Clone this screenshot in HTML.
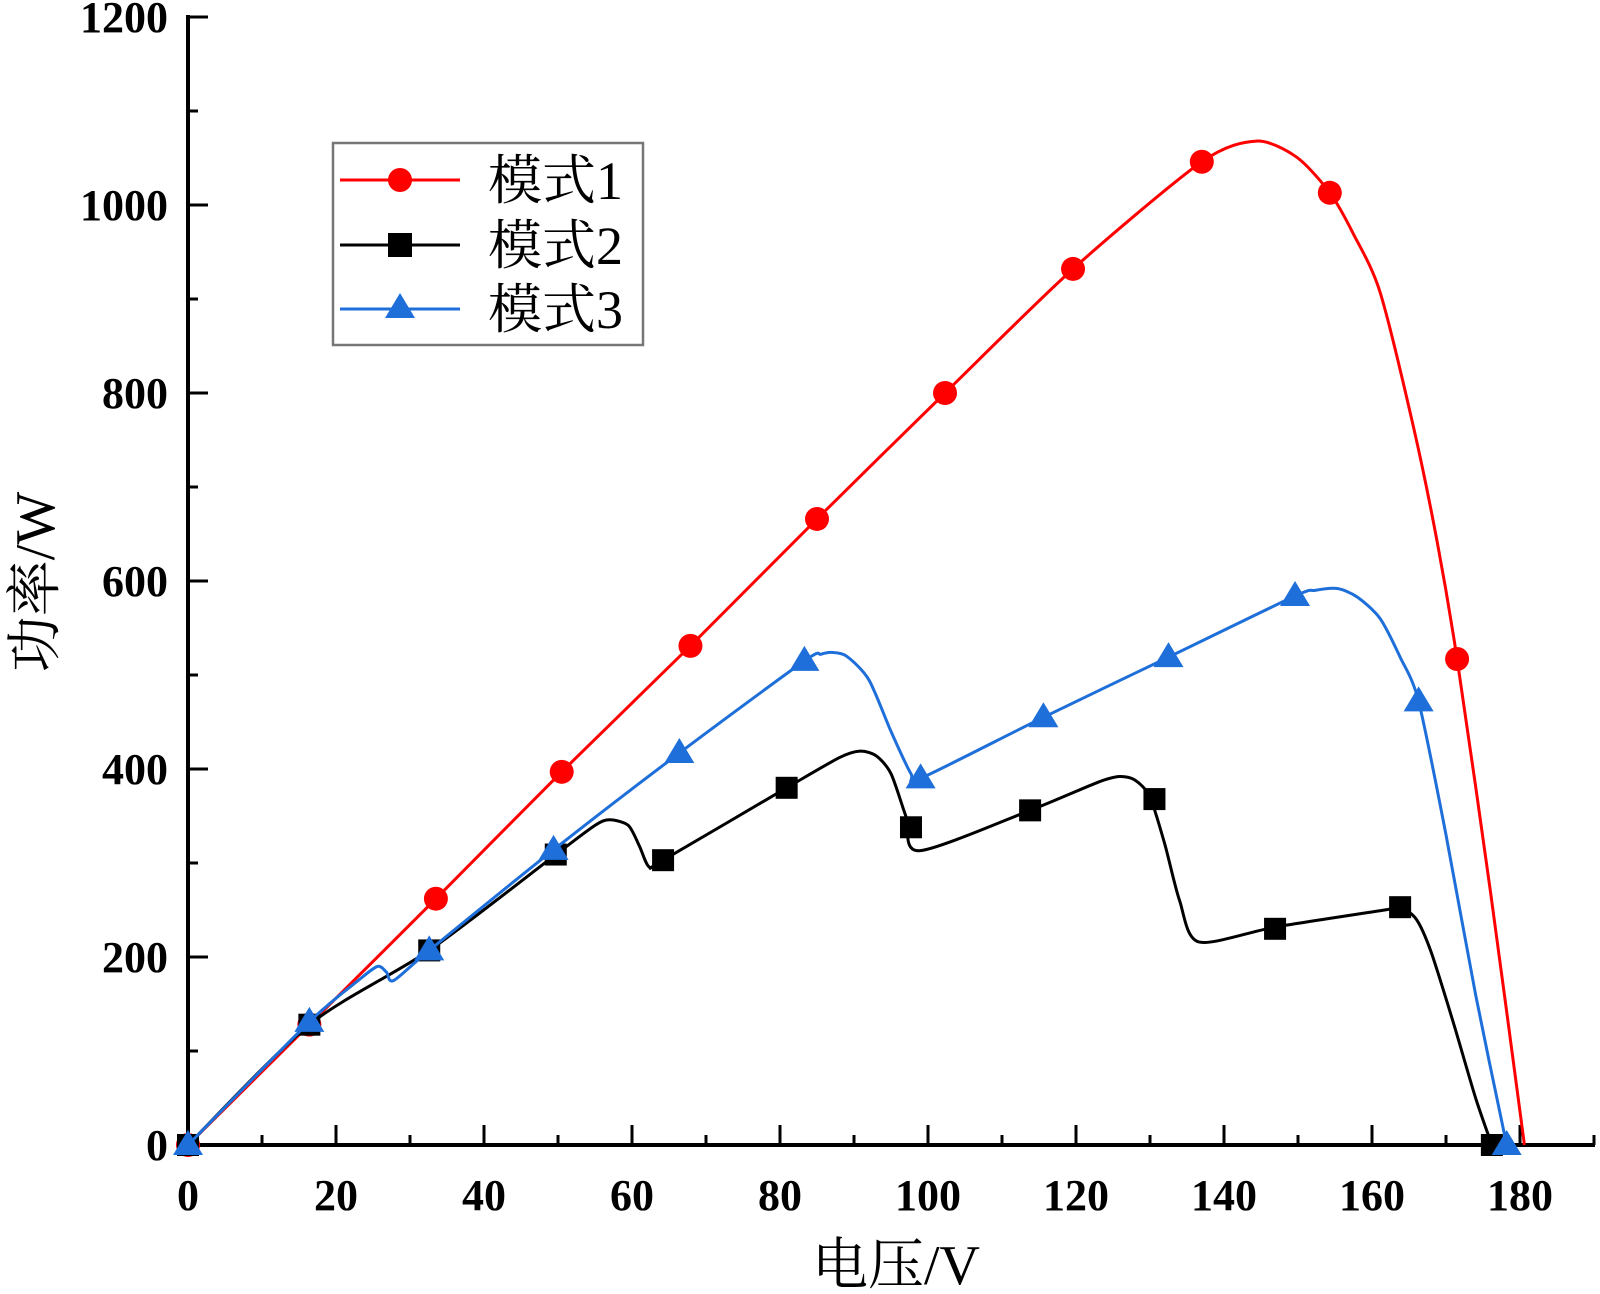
<!DOCTYPE html>
<html><head><meta charset="utf-8"><style>
html,body{margin:0;padding:0;background:#fff}
svg{display:block}
text{font-family:"Liberation Serif","Noto Serif CJK SC",serif}
</style></head><body>
<svg id="chart" width="1600" height="1294" viewBox="0 0 1600 1294" xmlns="http://www.w3.org/2000/svg">
<g id="axes"></g>
<g id="series"></g>
<g id="legend">
  <rect x="333" y="143" width="310" height="202" fill="#fff" stroke="#777" stroke-width="2.5"/>
  <g>
    <line x1="340" y1="180" x2="460" y2="180" stroke="#f00" stroke-width="3"/>
    <circle cx="400" cy="180" r="12" fill="#f00"/>
    <text x="488" y="199" font-size="54" fill="#000">模式1</text>
  </g>
  <g>
    <line x1="340" y1="245" x2="460" y2="245" stroke="#000" stroke-width="3"/>
    <rect x="388" y="233" width="24" height="24" fill="#000"/>
    <text x="488" y="264" font-size="54" fill="#000">模式2</text>
  </g>
  <g>
    <line x1="340" y1="309" x2="460" y2="309" stroke="#1e6fd9" stroke-width="3"/>
    <polygon points="400,293 415,318 385,318" fill="#1e6fd9"/>
    <text x="488" y="328" font-size="54" fill="#000">模式3</text>
  </g>
</g>
</svg>
<script>
const xTicks=[0,20,40,60,80,100,120,140,160,180];
const yTicks=[0,200,400,600,800,1000,1200];
// mode 1 (red)
const m1CurveX=[0,16.4,33.5,50.5,67.9,85,102.3,119.6,137,144.4,149.8,154.3,157.5,161.1,165.6,168.8,171.5,176,180.6];
const m1CurveY=[0,128,262,397,531,666,800,932,1046,1068,1051,1013,969,907,764,642,517,270,0];
const m1MarkX=[0,16.4,33.5,50.5,67.9,85,102.3,119.6,137,154.3,171.5];
const m1MarkY=[0,128,262,397,531,666,800,932,1046,1013,517];
// mode 2 (black)
const m2CurveX=[0,16.4,32.6,49.7,55,57,59.5,61,62.3,64.2,80.9,88,90.8,93,95,97,98.8,113.8,123,125.9,128,130,132,134,136.6,147,161.7,163.8,166,168,171,174,176.2];
const m2CurveY=[0,128,207,309,340,346,340,318,296,303,380,412,419,414,395,350,313,356,386,392,388,370,320,260,216,232,250,253,240,205,130,50,0];
const m2MarkX=[0,16.4,32.6,49.7,64.2,80.9,97.7,113.8,130.6,146.9,163.8,176.2];
const m2MarkY=[0,128,207,309,303,380,338,356,368,230,253,0];
// mode 3 (blue)
const m3CurveX=[0,16.4,23,25.6,26.8,27.8,32.6,49.4,66.4,83.3,85.5,87,89,92,95,97.7,99,115.6,132.5,149.6,152.3,155.3,158,161.1,163.8,166.3,170,174,178.2];
const m3CurveY=[0,131,175,190,184,175,207,314,417,515,522,524,520,495,440,395,390,455,519,584,590,592,583,560,519,472,330,160,0];
const m3MarkX=[0,16.4,32.6,49.4,66.4,83.3,99,115.6,132.5,149.6,166.3,178.2];
const m3MarkY=[0,131,207,314,417,515,390,455,519,584,472,0];

const NS='http://www.w3.org/2000/svg';
const X0=188,XS=7.4,Y0=1145,YS=0.94;
function sx(v){return X0+v*XS;}
function sy(v){return Y0-v*YS;}
function mk(tag,attrs,parent){const e=document.createElementNS(NS,tag);for(const k in attrs)e.setAttribute(k,attrs[k]);parent.appendChild(e);return e;}
const axes=document.getElementById('axes');
const series=document.getElementById('series');

let a=mk('line',{x1:X0,y1:Y0,x2:1595,y2:Y0,stroke:'#000','stroke-width':4},axes);


a=mk('line',{x1:X0,y1:Y0,x2:X0,y2:15,stroke:'#000','stroke-width':4},axes);


for(let v=0;v<=190;v+=10){
  const major=v%20===0;
  const t=mk('line',{x1:sx(v),y1:Y0,x2:sx(v),y2:Y0-(major?20:10),stroke:'#000','stroke-width':3},axes);
  
  
}
xTicks.forEach(v=>{
  const t=mk('text',{x:sx(v),y:1210,'font-size':44,'font-weight':'bold','text-anchor':'middle'},axes);
  t.textContent=v;
  
  
});
for(let v=0;v<=1200;v+=100){
  const major=v%200===0;
  const t=mk('line',{x1:X0,y1:sy(v),x2:X0+(major?20:10),y2:sy(v),stroke:'#000','stroke-width':3},axes);
  
  
}
yTicks.forEach(v=>{
  const t=mk('text',{x:168,y:sy(v)+15,'font-size':44,'font-weight':'bold','text-anchor':'end'},axes);
  t.textContent=v;
  
  
});
let xt=mk('text',{x:896,y:1284,'font-size':56,'text-anchor':'middle'},axes);
xt.textContent='电压/V';


let yt=mk('text',{x:0,y:0,'font-size':56,'text-anchor':'middle',transform:'translate(54,582) rotate(-90)'},axes);
yt.textContent='功率/W';



function pathFrom(xs,ys){
  const p=xs.map((x,i)=>[sx(x),sy(ys[i])]);
  let d='M'+p[0][0]+','+p[0][1];
  for(let i=0;i<p.length-1;i++){
    const p0=p[i-1]||p[i],p1=p[i],p2=p[i+1],p3=p[i+2]||p[i+1];
    const k=1/6*0.8;
    const c1=[p1[0]+(p2[0]-p0[0])*k,p1[1]+(p2[1]-p0[1])*k];
    const c2=[p2[0]-(p3[0]-p1[0])*k,p2[1]-(p3[1]-p1[1])*k];
    d+=' C'+c1[0]+','+c1[1]+' '+c2[0]+','+c2[1]+' '+p2[0]+','+p2[1];
  }
  return d;
}
function drawSeries(name,cx,cy,mx,my,color,shape){
  const g=mk('g',{},series);
  
  
  const l=mk('path',{d:pathFrom(cx,cy),fill:'none',stroke:color,'stroke-width':3},g);
  
  
  mx.forEach((x,i)=>{
    const X=sx(x),Y=sy(my[i]);let m;
    if(shape==='circle')m=mk('circle',{cx:X,cy:Y,r:12,fill:color},g);
    else if(shape==='square')m=mk('rect',{x:X-11,y:Y-11,width:22,height:22,fill:color},g);
    else m=mk('polygon',{points:`${X},${Y-15} ${X+15},${Y+10} ${X-15},${Y+10}`,fill:color},g);
    
    
  });
}
drawSeries('mode1-series',m1CurveX,m1CurveY,m1MarkX,m1MarkY,'#f00','circle');
drawSeries('mode2-series',m2CurveX,m2CurveY,m2MarkX,m2MarkY,'#000','square');
drawSeries('mode3-series',m3CurveX,m3CurveY,m3MarkX,m3MarkY,'#1e6fd9','triangle');
</script>
</body></html>
